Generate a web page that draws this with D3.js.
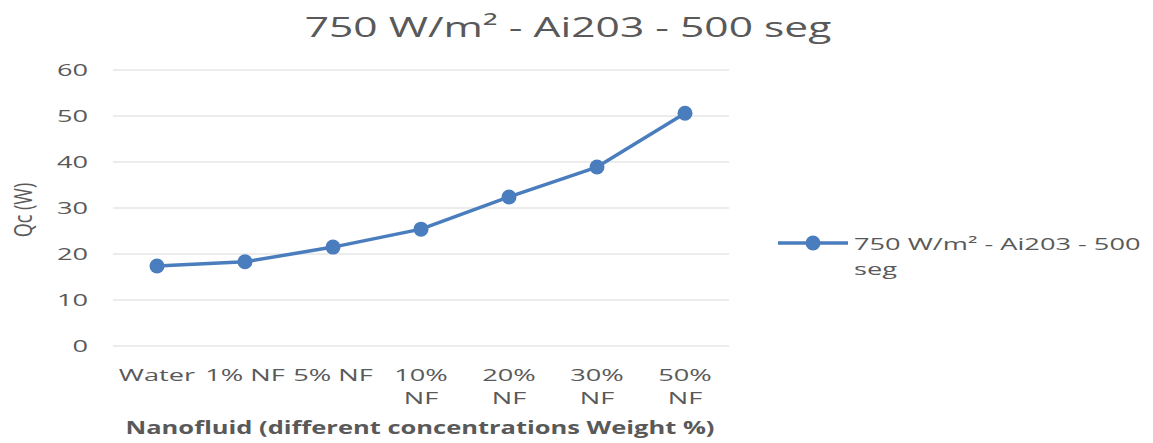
<!DOCTYPE html>
<html>
<head>
<meta charset="utf-8">
<script src="https://cdn.jsdelivr.net/npm/d3@7"></script>
<style>
  body { margin: 0; background: #fff; }
  text { font-family: "Open Sans", sans-serif; fill: #595959; }
</style>
</head>
<body>
<svg width="1153" height="443"></svg>
<script>
// chart data
var categories = ["Water", "1% NF", "5% NF", "10% NF", "20% NF", "30% NF", "50% NF"];
var qcValues = [17.4, 18.3, 21.5, 25.4, 32.4, 38.9, 50.6];
var yTicks = [0, 10, 20, 30, 40, 50, 60];
var seriesName = "750 W/m² - Ai203 - 500 seg";
var titleText = "750 W/m² - Ai203 - 500 seg";
var xTitle = "Nanofluid (different concentrations Weight %)";
var yTitle = "Qc (W)";

var svg = d3.select("svg");
var sx = 1.6; // the picture is stretched sideways
var blue = "#4a7dbd";

var margin = {left: 113, right: 424, top: 70, bottom: 97};
var width = 1153 - margin.left - margin.right,
    height = 443 - margin.top - margin.bottom;

var x = d3.scalePoint().domain(categories).range([0, width]).padding(0.5);
var y = d3.scaleLinear().domain([0, 60]).range([height, 0]);

var g = svg.append("g").attr("transform", "translate(" + margin.left + "," + margin.top + ")");

// helper for stretched text
function stretched(sel, px, py, s) {
  return sel.attr("transform", "translate(" + px + "," + py + ") scale(" + (s || sx) + ",1)");
}

// gridlines
g.append("g")
  .selectAll("line")
  .data(yTicks)
  .enter()
  .append("line")
    .attr("x1", 0).attr("x2", width)
    .attr("y1", d => y(d)).attr("y2", d => y(d))
    .attr("stroke", "#d9d9d9").attr("stroke-width", 1.2);

// y tick labels
g.append("g")
  .selectAll("text")
  .data(yTicks)
  .enter()
  .append("text")
    .attr("text-anchor", "end")
    .attr("dy", "0.35em")
    .style("font-size", "17px")
    .each(function(d) { stretched(d3.select(this), -25, y(d)); })
    .text(d => d);

// x tick labels, wrap "NN% NF" after the first word when needed
g.append("g")
  .selectAll("text")
  .data(categories)
  .enter()
  .append("text")
    .attr("text-anchor", "middle")
    .style("font-size", "17px")
    .each(function(d, i) {
      var t = d3.select(this);
      stretched(t, x(d), height + 35);
      var parts = (i >= 3) ? d.split(" ") : [d];
      parts.forEach(function(p, j) {
        t.append("tspan").attr("x", 0).attr("y", j * 23).text(p);
      });
    });

// line
var line = d3.line()
  .x((d, i) => x(categories[i]))
  .y(d => y(d));

g.append("path")
  .datum(qcValues)
  .attr("d", line)
  .attr("fill", "none")
  .attr("stroke", blue)
  .attr("stroke-width", 3.5)
  .attr("stroke-linejoin", "round");

g.append("g")
  .selectAll("circle")
  .data(qcValues)
  .enter()
  .append("circle")
    .attr("cx", (d, i) => x(categories[i]))
    .attr("cy", d => y(d))
    .attr("r", 7.5)
    .attr("fill", blue);

// title
stretched(svg.append("text"), 568, 37, 1.52)
  .attr("text-anchor", "middle")
  .style("font-size", "28px")
  .text(titleText);

// axis titles
stretched(svg.append("text"), margin.left + width / 2 - 1, 434, 1.5)
  .attr("text-anchor", "middle")
  .style("font-size", "17px")
  .style("font-weight", "bold")
  .text(xTitle);

svg.append("text")
  .attr("transform", "translate(32,210) rotate(-90) scale(1,1.4)")
  .attr("text-anchor", "middle")
  .style("font-size", "18px")
  .text(yTitle);

// legend
var lg = svg.append("g").attr("transform", "translate(778,243)");
lg.append("line").attr("x1", 0).attr("x2", 70).attr("y1", 0).attr("y2", 0)
  .attr("stroke", blue).attr("stroke-width", 3.5);
lg.append("circle").attr("cx", 35).attr("cy", 0).attr("r", 7.5).attr("fill", blue);
var words = seriesName.split(" ");
var lt = stretched(lg.append("text"), 76, 7).style("font-size", "17px");
lt.append("tspan").attr("x", 0).attr("y", 0).text(words.slice(0, -1).join(" "));
lt.append("tspan").attr("x", 0).attr("y", 25).text(words[words.length - 1]);
</script>
</body>
</html>
